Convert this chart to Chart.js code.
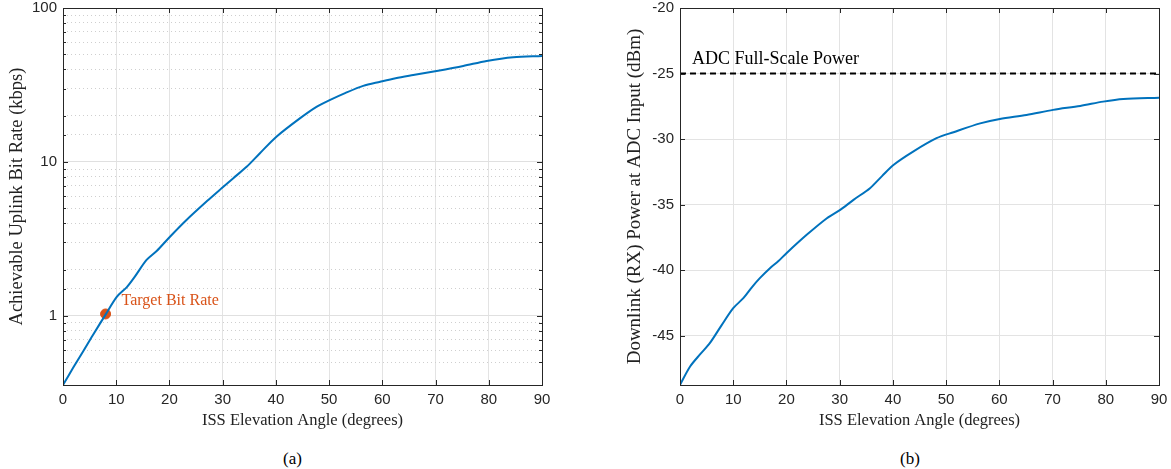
<!DOCTYPE html>
<html>
<head>
<meta charset="utf-8">
<script src="https://cdn.jsdelivr.net/npm/chart.js@4"></script>
<style>
  body { margin: 0; background: #fff; width: 1171px; height: 469px; position: relative; overflow: hidden; }
  canvas { position: absolute; top: 0; }
  #left { left: 0; }
  #right { left: 619px; }
  .cap { position: absolute; top: 449px; font: 17px "Liberation Serif", serif; color: #000; }
</style>
</head>
<body>
<canvas id="left" width="560" height="440"></canvas>
<canvas id="right" width="552" height="440"></canvas>
<div class="cap" style="left:283px">(a)</div>
<div class="cap" style="left:900px">(b)</div>
<script>
// elevation angles (deg) and uplink bit rate (kbps)
var upAngle = [0, 1.9, 3.8, 5.6, 8, 10.1, 12, 13.5, 15.7, 17.6, 20.1, 23.2, 27.3, 29.8, 32, 34.5, 37, 40.1, 44.5, 47.7, 50.2, 53, 56.4, 59.6, 62.5, 65.8, 70.2, 75.2, 79.6, 84.6, 90]
var upRate = [0.356, 0.46, 0.59, 0.75, 1.02, 1.33, 1.54, 1.8, 2.31, 2.64, 3.27, 4.2, 5.67, 6.75, 7.85, 9.3, 11.4, 14.6, 19.2, 22.9, 25.3, 28, 31.2, 33.2, 35, 36.7, 39.0, 42.0, 45.3, 47.9, 48.8]
var target = { angle: 8, rate: 1.03 }

// elevation angles (deg) and downlink power (dBm), panel (b)
var dnAngle = [0, 1.9, 3.8, 5.6, 7.8, 10, 11.9, 13.5, 15, 16.9, 18.5, 20, 23.8, 27.6, 30.1, 32.6, 35.7, 38, 40.1, 43.8, 48.2, 51.4, 56.4, 60.1, 65.1, 70.1, 75.2, 79.5, 83.3, 90]
var dnPower = [-48.74, -47.34, -46.4, -45.56, -44.2, -42.89, -42.13, -41.3, -40.6, -39.84, -39.3, -38.7, -37.3, -36.03, -35.4, -34.63, -33.74, -32.8, -31.97, -30.95, -29.93, -29.47, -28.8, -28.46, -28.16, -27.77, -27.47, -27.14, -26.94, -26.84]
var adcFullScale = -25

var xTicks = [0, 10, 20, 30, 40, 50, 60, 70, 80, 90]
var logLabels = [1, 10, 100]

var blue = '#0072BD'
var orange = '#D95319'
var axisCol = '#262626'
var serif = '"Liberation Serif", "DejaVu Serif", serif'
var sans = '"Liberation Sans", Arial, sans-serif'

const pts = (xs, ys) => xs.map((x, i) => ({ x: x, y: ys[i] }))

// MATLAB style box with inward ticks on all four sides
const boxPlugin = {
    id: 'box',
    afterDraw(chart) {
        const c = chart.ctx, a = chart.chartArea
        const xs = chart.scales.x, ys = chart.scales.y
        c.save()
        c.strokeStyle = axisCol
        c.lineWidth = 1
        c.beginPath()
        xs.ticks.forEach(t => {
            const px = Math.round(xs.getPixelForValue(t.value)) + 0.5
            c.moveTo(px, a.bottom); c.lineTo(px, a.bottom - 5)
            c.moveTo(px, a.top); c.lineTo(px, a.top + 5)
        })
        ys.ticks.forEach(t => {
            if (t.value <= ys.min || t.value >= ys.max) return
            const len = (ys.type === 'logarithmic' && !t.major) ? 3 : 5
            const py = Math.round(ys.getPixelForValue(t.value)) + 0.5
            c.moveTo(a.left, py); c.lineTo(a.left + len, py)
            c.moveTo(a.right, py); c.lineTo(a.right - len, py)
        })
        c.stroke()
        c.strokeRect(Math.round(a.left) + 0.5, Math.round(a.top) + 0.5, Math.round(a.right - a.left), Math.round(a.bottom - a.top))
        c.restore()
    }
}

const textPlugin = {
    id: 'notes',
    afterDatasetsDraw(chart, args, opts) {
        if (!opts.items) return
        const c = chart.ctx
        c.save()
        opts.items.forEach(it => {
            const px = it.x == null ? chart.chartArea.left : chart.scales.x.getPixelForValue(it.x)
            const py = chart.scales.y.getPixelForValue(it.y)
            c.font = it.size + 'px ' + serif
            c.fillStyle = it.color
            c.textBaseline = 'middle'
            c.fillText(it.text, px + it.dx, py + it.dy)
        })
        c.restore()
    }
}

const xAxis = () => ({
    type: 'linear',
    min: 0,
    max: 90,
    afterBuildTicks: s => { s.ticks = xTicks.map(v => ({ value: v })) },
    afterFit: s => { s.height = 55; s.paddingLeft = 0; s.paddingRight = 0 },
    grid: { color: '#e3e3e3', drawTicks: false },
    border: { display: false },
    ticks: { color: axisCol, font: { family: sans, size: 15 }, padding: 6, maxRotation: 0 },
    title: { display: true, text: 'ISS Elevation Angle (degrees)', color: '#222', font: { family: serif, size: 16.5 }, padding: { top: 2, bottom: 9 } }
})

const fitY = w => s => { s.width = w; s.paddingTop = 0; s.paddingBottom = 0 }

new Chart(document.getElementById('left'), {
    type: 'line',
    data: {
        datasets: [
            { data: pts(upAngle, upRate), borderColor: blue, borderWidth: 2, pointRadius: 0, tension: 0.3, fill: false },
            { data: [{ x: target.angle, y: target.rate }], showLine: false, pointRadius: 5, pointBackgroundColor: orange, pointBorderColor: orange }
        ]
    },
    options: {
        responsive: false,
        animation: false,
        layout: { padding: { top: 8, right: 18, left: 0, bottom: 0 } },
        plugins: {
            legend: { display: false },
            tooltip: { enabled: false },
            notes: { items: [{ text: 'Target Bit Rate', x: target.angle, y: target.rate, dx: 16, dy: -13, color: orange, size: 16 }] }
        },
        scales: {
            x: xAxis(),
            y: {
                type: 'logarithmic',
                min: 0.356,
                max: 100,
                afterFit: fitY(63),
                grid: {
                    drawTicks: false,
                    color: c => c.tick && logLabels.includes(c.tick.value) ? '#e0e0e0' : '#cfcfcf'
                },
                border: {
                    display: false,
                    dash: c => c.tick && logLabels.includes(c.tick.value) ? [] : [1, 3]
                },
                ticks: {
                    autoSkip: false,
                    color: axisCol,
                    font: { family: sans, size: 15 },
                    padding: 6,
                    callback: v => logLabels.includes(v) ? String(v) : ''
                },
                title: { display: true, text: 'Achievable Uplink Bit Rate (kbps)', color: '#222', font: { family: serif, size: 18.5 }, padding: { top: 6, bottom: 0 } }
            }
        }
    },
    plugins: [boxPlugin, textPlugin]
})

new Chart(document.getElementById('right'), {
    type: 'line',
    data: {
        datasets: [
            { data: pts(dnAngle, dnPower), borderColor: blue, borderWidth: 2, pointRadius: 0, tension: 0.3, fill: false },
            { data: [{ x: 0, y: adcFullScale }, { x: 90, y: adcFullScale }], borderColor: '#000', borderWidth: 2, borderDash: [6, 4], pointRadius: 0 }
        ]
    },
    options: {
        responsive: false,
        animation: false,
        layout: { padding: { top: 8, right: 12, left: 0, bottom: 0 } },
        plugins: {
            legend: { display: false },
            tooltip: { enabled: false },
            notes: { items: [{ text: 'ADC Full-Scale Power', x: null, y: adcFullScale, dx: 12, dy: -14, color: '#000', size: 18 }] }
        },
        scales: {
            x: xAxis(),
            y: {
                type: 'linear',
                min: -48.75,
                max: -20,
                afterFit: fitY(61),
                grid: { color: '#e3e3e3', drawTicks: false },
                border: { display: false },
                ticks: {
                    stepSize: 5,
                    color: axisCol,
                    font: { family: sans, size: 15 },
                    padding: 6,
                    callback: v => v % 5 === 0 ? String(v) : ''
                },
                title: { display: true, text: 'Downlink (RX) Power at ADC Input (dBm)', color: '#222', font: { family: serif, size: 19 }, padding: { top: 5, bottom: 0 } }
            }
        }
    },
    plugins: [boxPlugin, textPlugin]
})
</script>
</body>
</html>
